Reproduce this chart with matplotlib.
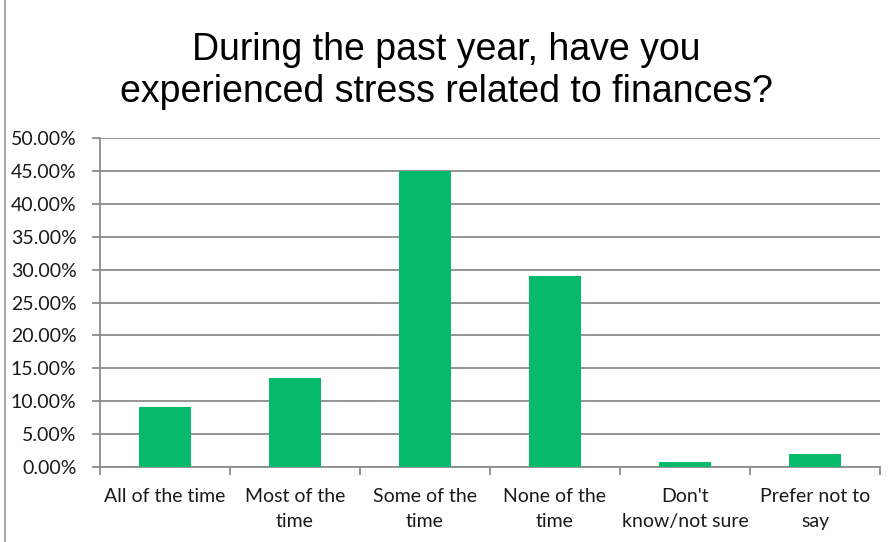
import matplotlib.pyplot as plt
import numpy as np
from matplotlib.patches import Rectangle
from matplotlib.ticker import FuncFormatter, MultipleLocator, FixedLocator

# Data
categories = ["All of the time", "Most of the\ntime", "Some of the\ntime",
              "None of the\ntime", "Don't\nknow/not sure", "Prefer not to\nsay"]
values = [9.1, 13.5, 45.0, 29.0, 0.7, 2.0]

title = "During the past year, have you\nexperienced stress related to finances?"

fig = plt.figure(figsize=(8.93, 5.42), dpi=100)
ax = fig.add_axes([100 / 893, 75 / 542, 780 / 893, 329 / 542])

x = np.arange(len(categories))
ax.bar(x, values, width=0.4, color="#05BB6B", zorder=3)

ax.set_xlim(-0.5, len(categories) - 0.5)
ax.set_ylim(0, 50)
ax.yaxis.set_major_locator(MultipleLocator(5))
ax.yaxis.set_major_formatter(FuncFormatter(lambda v, p: f"{v:.2f}%"))
ax.grid(axis="y", color="#8c8c8c", linewidth=1.3, zorder=0)

# category labels centred, ticks between categories
ax.set_xticks(x)
ax.set_xticklabels(categories, fontsize=14, family="Lato", linespacing=1.6,
                   color="#1a1a1a")
ax.tick_params(axis="x", length=0, pad=15)
ax.xaxis.set_minor_locator(FixedLocator(np.arange(-0.5, len(categories), 1)))
ax.tick_params(axis="x", which="minor", length=6, color="#8c8c8c", width=1.3)
ax.tick_params(axis="y", length=6, color="#8c8c8c", width=1.3, labelsize=14,
               pad=11, labelcolor="#1a1a1a")
for lab in ax.get_yticklabels():
    lab.set_family("Lato")

for s in ["top", "right"]:
    ax.spines[s].set_visible(False)
for s in ["left", "bottom"]:
    ax.spines[s].set_color("#8c8c8c")
    ax.spines[s].set_linewidth(1.3)

fig.text(0.5, 1 - 71 / 542, title, ha="center", va="center", fontsize=27,
         family="Liberation Sans", linespacing=1.25)

# outer chart border
fig.patches.append(Rectangle((5 / 893, -0.01), 1.5, 1.5, transform=fig.transFigure,
                             fill=False, edgecolor="#9a9a9a", linewidth=1.2))

fig.savefig("out.png", dpi=100)
